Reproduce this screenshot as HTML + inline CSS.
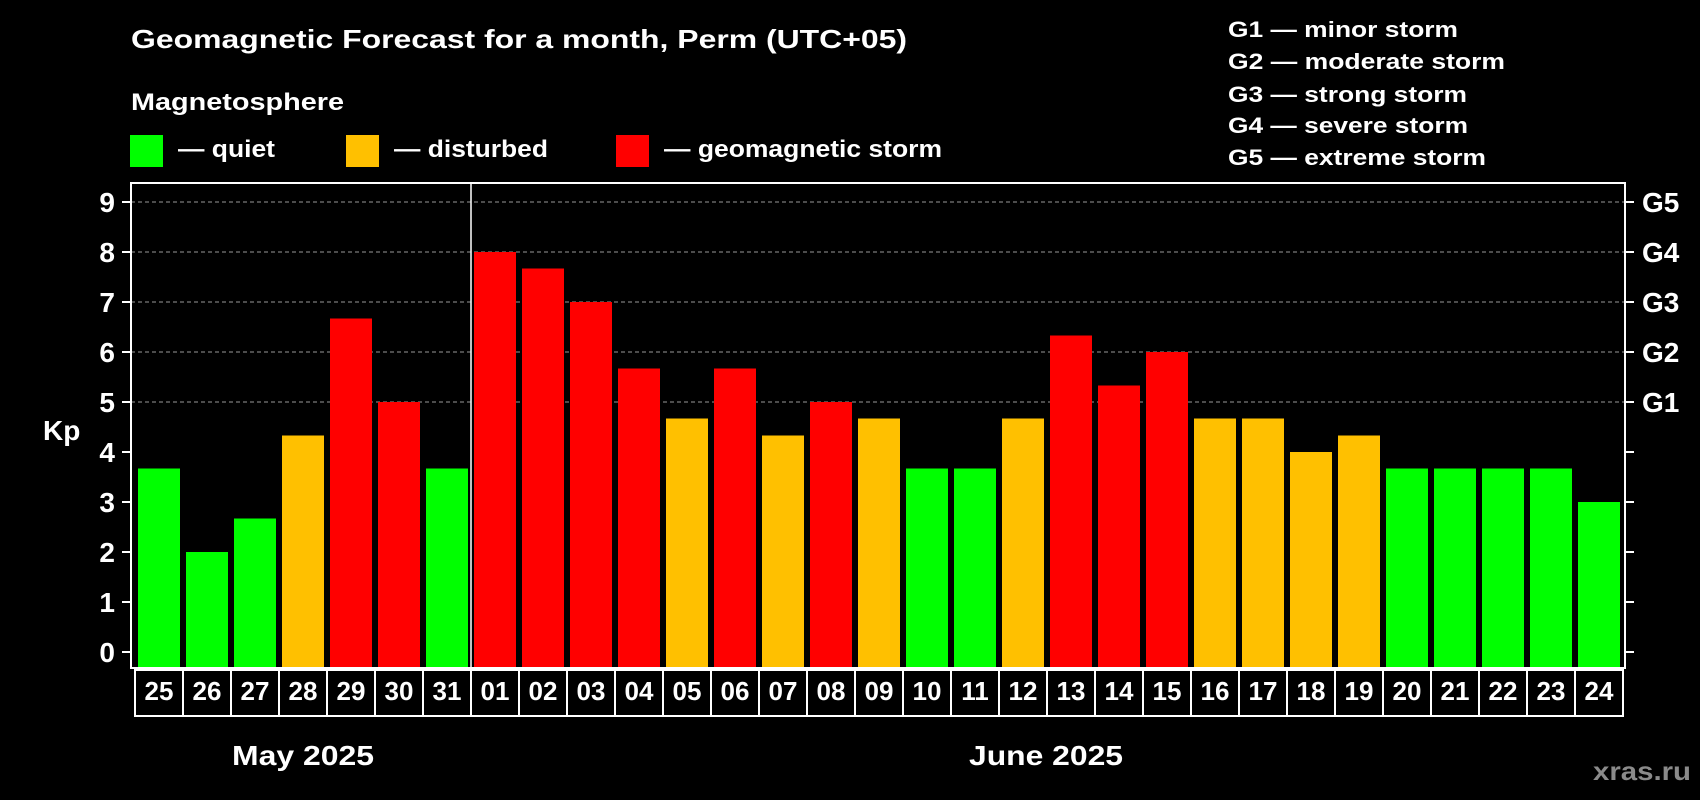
<!DOCTYPE html>
<html><head><meta charset="utf-8"><style>
html,body{margin:0;padding:0;background:#000;width:1700px;height:800px;overflow:hidden}
svg text{font-family:"Liberation Sans",Arial,sans-serif;font-weight:bold;fill:#fff}
</style></head><body>
<svg id="chart" width="1700" height="800" xmlns="http://www.w3.org/2000/svg">
<rect width="1700" height="800" fill="#000"/>
<text x="131" y="48" font-size="26" textLength="776" lengthAdjust="spacingAndGlyphs">Geomagnetic Forecast for a month, Perm (UTC+05)</text>
<text x="131" y="110" font-size="24" textLength="213" lengthAdjust="spacingAndGlyphs">Magnetosphere</text>
<rect x="130" y="135" width="33" height="32" fill="#00ff00"/>
<text x="178" y="157" font-size="24" textLength="97" lengthAdjust="spacingAndGlyphs">— quiet</text>
<rect x="346" y="135" width="33" height="32" fill="#ffc000"/>
<text x="394" y="157" font-size="24" textLength="154" lengthAdjust="spacingAndGlyphs">— disturbed</text>
<rect x="616" y="135" width="33" height="32" fill="#ff0000"/>
<text x="664" y="157" font-size="24" textLength="278" lengthAdjust="spacingAndGlyphs">— geomagnetic storm</text>
<g font-size="22">
<text x="1228" y="37" textLength="230" lengthAdjust="spacingAndGlyphs">G1 — minor storm</text>
<text x="1228" y="69" textLength="277" lengthAdjust="spacingAndGlyphs">G2 — moderate storm</text>
<text x="1228" y="102" textLength="239" lengthAdjust="spacingAndGlyphs">G3 — strong storm</text>
<text x="1228" y="133" textLength="240" lengthAdjust="spacingAndGlyphs">G4 — severe storm</text>
<text x="1228" y="165" textLength="258" lengthAdjust="spacingAndGlyphs">G5 — extreme storm</text>
</g>
<g id="grid"></g>
<g id="bars"></g>
<g id="axes"></g>
<text x="43" y="440" font-size="28">Kp</text>
<text x="232" y="765" font-size="28" textLength="142" lengthAdjust="spacingAndGlyphs">May 2025</text>
<text x="969" y="765" font-size="28" textLength="154" lengthAdjust="spacingAndGlyphs">June 2025</text>
<text x="1593" y="780" font-size="26" style="fill:#8a8a8a" textLength="98" lengthAdjust="spacingAndGlyphs">xras.ru</text>
</svg>
<script>
const days = ["25","26","27","28","29","30","31","01","02","03","04","05","06","07","08","09","10","11","12","13","14","15","16","17","18","19","20","21","22","23","24"];
const kpValues = [3.67,2,2.67,4.33,6.67,5,3.67,8,7.67,7,5.67,4.67,5.67,4.33,5,4.67,3.67,3.67,4.67,6.33,5.33,6,4.67,4.67,4,4.33,3.67,3.67,3.67,3.67,3];
const yTicks = [0,1,2,3,4,5,6,7,8,9];
const gLabels = ["G1","G2","G3","G4","G5"];
const gLevels = [5,6,7,8,9];
const monthSplitIndex = 7;

const NS = "http://www.w3.org/2000/svg";
const plotL = 131, plotR = 1625, plotT = 183, plotB = 668;
const y0 = 652, unit = 50;
const slot = 48, firstBar = 138, barW = 42;
const y = v => y0 - v * unit;
const x = i => firstBar + i * slot;
function mk(tag, attrs, parent) {
  const e = document.createElementNS(NS, tag);
  for (const k in attrs) e.setAttribute(k, attrs[k]);
  parent.appendChild(e);
  return e;
}
const grid = document.getElementById('grid');
const bars = document.getElementById('bars');
const axes = document.getElementById('axes');

gLevels.forEach(v => {
  const l = mk('line', {x1: plotL, x2: plotR, y1: y(v), y2: y(v), stroke: '#999', 'stroke-width': 1, 'stroke-dasharray': '4,3'}, grid);
  
  
});

kpValues.forEach((v, i) => {
  const c = v >= 5 ? '#ff0000' : (v >= 4 ? '#ffc000' : '#00ff00');
  const r = mk('rect', {x: x(i), y: y(v), width: barW, height: plotB - y(v), fill: c}, bars);
  
  
});

const frame = mk('rect', {x: plotL, y: plotT, width: plotR - plotL, height: plotB - plotT, fill: 'none', stroke: '#fff', 'stroke-width': 2}, axes);


const dx = (x(monthSplitIndex - 1) + barW + x(monthSplitIndex)) / 2;
const div = mk('line', {x1: dx, x2: dx, y1: plotT, y2: plotB, stroke: '#fff', 'stroke-width': 1.5}, axes);



yTicks.forEach(v => {
  mk('line', {x1: plotL - 9, x2: plotL, y1: y(v), y2: y(v), stroke: '#fff', 'stroke-width': 2}, axes);
  mk('line', {x1: plotR, x2: plotR + 9, y1: y(v), y2: y(v), stroke: '#fff', 'stroke-width': 2}, axes);
  const t = mk('text', {x: 115, y: y(v) + 10, 'text-anchor': 'end', 'font-size': 28}, axes);
  t.textContent = v;
  
  
});
gLabels.forEach((g, i) => {
  const t = mk('text', {x: 1642, y: y(gLevels[i]) + 10, 'font-size': 28}, axes);
  t.textContent = g;
  
  
});

const boxL = 135, boxT = 670, boxB = 716;
const box = mk('rect', {x: boxL, y: boxT, width: days.length * slot, height: boxB - boxT, fill: 'none', stroke: '#fff', 'stroke-width': 2}, axes);


days.forEach((d, i) => {
  if (i > 0) mk('line', {x1: boxL + i * slot, x2: boxL + i * slot, y1: boxT, y2: boxB, stroke: '#fff', 'stroke-width': 2}, axes);
  const t = mk('text', {x: boxL + i * slot + slot / 2, y: 700, 'text-anchor': 'middle', 'font-size': 26}, axes);
  t.textContent = d;
  
  
});
</script>
</body></html>
